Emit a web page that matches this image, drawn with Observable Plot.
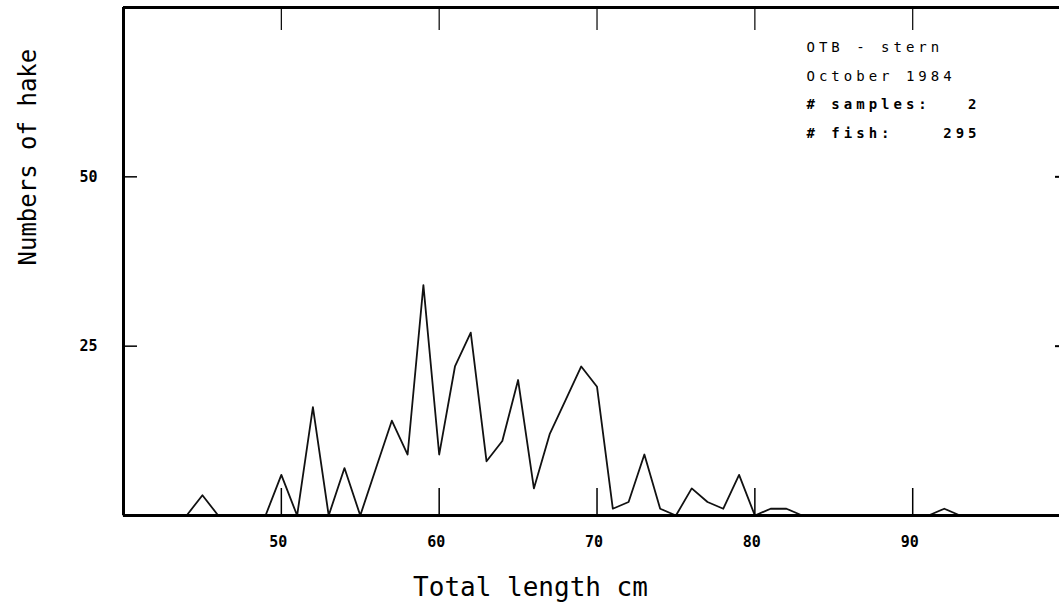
<!DOCTYPE html>
<html><head><meta charset="utf-8">
<script src="https://cdn.jsdelivr.net/npm/d3@7"></script>
<script src="https://cdn.jsdelivr.net/npm/@observablehq/plot@0.6"></script>
<style>
html,body{margin:0;padding:0;background:#fff;}
svg text{white-space:pre;}
g[aria-label="x-axis tick-label"] text, g[aria-label="y-axis tick-label"] text{letter-spacing:3px;}
</style></head><body><div id="chart"></div>
<script>
// Total length (cm)
const lengths = [40,41,42,43,44,45,46,47,48,49,
                 50,51,52,53,54,55,56,57,58,59,
                 60,61,62,63,64,65,66,67,68,69,
                 70,71,72,73,74,75,76,77,78,79,
                 80,81,82,83,84,85,86,87,88,89,
                 90,91,92,93,94,95,96,97,98,99];
// Numbers of hake
const counts  = [0,0,0,0,0,3,0,0,0,0,
                 6,0,16,0,7,0,7,14,9,34,
                 9,22,27,8,11,20,4,12,17,22,
                 19,1,2,9,1,0,4,2,1,6,
                 0,1,1,0,0,0,0,0,0,0,
                 0,0,1,0,0,0,0,0,0,0];
const xTicks = [50,60,70,80,90];
const yTicks = [25,50];
const xDomain = [40, 99.3];
const yDomain = [0, 75];
const xTitle = "Total length cm";
const yTitle = "Numbers of hake";
const legendLines = ["OTB - stern", "October 1984", "# samples:   2", "# fish:    295"];
const legendBold = [false, false, true, true];

const data = lengths.map((L, i) => ({L, n: counts[i]}));
const mono = "DejaVu Sans Mono";

const chart = Plot.plot({
  width: 1059,
  height: 611,
  marginTop: 7,
  marginBottom: 96,
  marginLeft: 123,
  marginRight: 0,
  style: {background: "#fff", color: "#000", fontFamily: mono},
  x: {domain: xDomain, axis: null},
  y: {domain: yDomain, axis: null},
  marks: [
    Plot.line(data, {x: "L", y: "n", stroke: "#111", strokeWidth: 1.8}),
    // frame (left, top, bottom)
    Plot.ruleX([xDomain[0]], {stroke: "#000", strokeWidth: 3}),
    Plot.ruleY(yDomain, {stroke: "#000", strokeWidth: 3}),
    // inward ticks
    Plot.axisX({anchor: "bottom", ticks: xTicks, tickSize: -27, tickFormat: () => "", label: null, strokeWidth: 1.5}),
    Plot.axisX({anchor: "top", ticks: xTicks, tickSize: -22, tickFormat: () => "", label: null, strokeWidth: 1.2}),
    Plot.axisY({anchor: "left", ticks: yTicks, tickSize: -14, tickFormat: () => "", label: null, strokeWidth: 1.5}),
    Plot.axisY({anchor: "right", ticks: yTicks, tickSize: -5, tickFormat: () => "", label: null, strokeWidth: 2}),
    // tick labels
    Plot.axisX({anchor: "bottom", ticks: xTicks, tickSize: 0, tickPadding: 21, dx: -3, fontSize: 15, fontWeight: "bold", fontFamily: mono, label: null}),
    Plot.axisY({anchor: "left", ticks: yTicks, tickSize: 0, tickPadding: 26, fontSize: 15, fontWeight: "bold", fontFamily: mono, label: null}),
    // axis titles
    Plot.text([yTitle], {frameAnchor: "left", dx: -95, dy: 4, rotate: -90, fontSize: 24, fontFamily: mono, fill: "#000"}),
    Plot.text([xTitle], {frameAnchor: "bottom", dx: -61, dy: 80, fontSize: 26, fontFamily: mono, fill: "#000"}),
    // legend block
    ...legendLines.map((t, i) => Plot.text([t], {
      frameAnchor: "top-left", dx: 683, dy: 35 + 28.5 * i, lineAnchor: "top", textAnchor: "start",
      fontSize: 14, fontFamily: mono, fontWeight: legendBold[i] ? "bold" : "normal", fill: "#000"
    }))
  ]
});
d3.select(chart).selectAll("text")
  .filter(function() { return legendLines.includes(this.textContent); })
  .attr("letter-spacing", "4px");
document.getElementById("chart").appendChild(chart);
</script>
</body></html>
